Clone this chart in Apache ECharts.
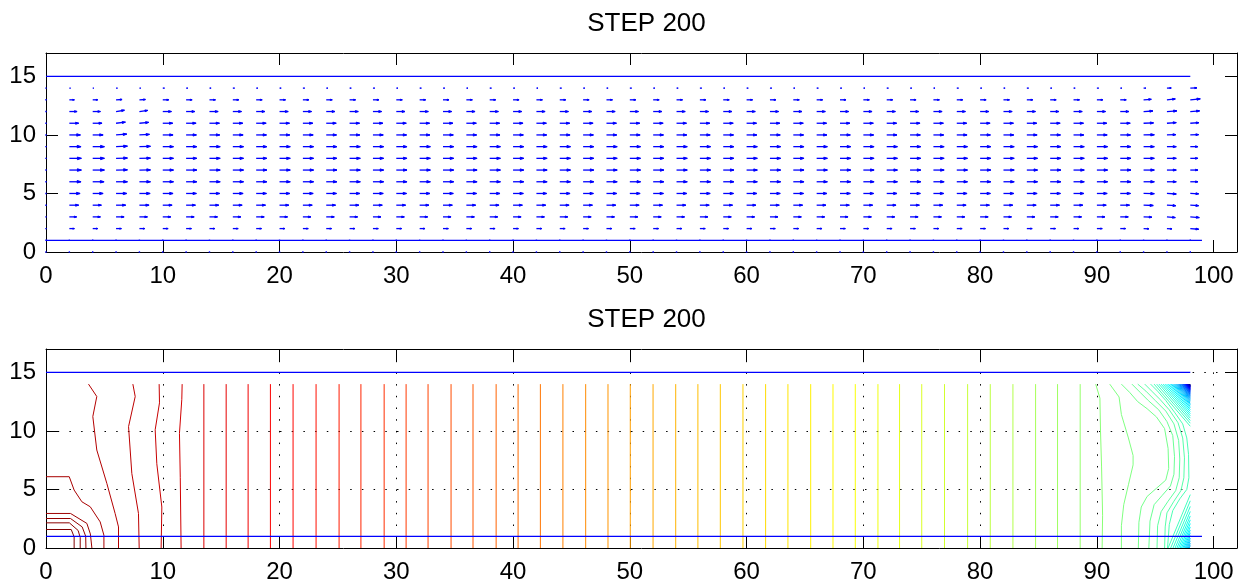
<!DOCTYPE html>
<html>
<head>
<meta charset="utf-8">
<script src="https://cdn.jsdelivr.net/npm/echarts@6/dist/echarts.min.js"></script>
<style>
  html, body { margin: 0; padding: 0; background: #fff; }
  #chart { width: 1253px; height: 588px; }
</style>
</head>
<body>
<div id="chart"></div>
<script>
// ---------------- DATA ----------------
const titleText = 'STEP 200';
const xTicks = [0, 10, 20, 30, 40, 50, 60, 70, 80, 90, 100];
const yTicks = [0, 5, 10, 15];

// wall lines
const wallBottom = [[0, 1], [99, 1]];
const wallTop = [[0, 15], [98, 15]];

// quiver grid
const quiverX = [0,2,4,6,8,10,12,14,16,18,20,22,24,26,28,30,32,34,36,38,40,42,44,46,48,
                 50,52,54,56,58,60,62,64,66,68,70,72,74,76,78,80,82,84,86,88,90,92,94,96,98];
const quiverY = [0,1,2,3,4,5,6,7,8,9,10,11,12,13,14];
// u,v by row (y = 0..14)
const uBase = [0, 0, 0.050, 0.075, 0.087, 0.096, 0.100, 0.100, 0.100, 0.100, 0.096, 0.093, 0.081, 0.056, 0.015];
const vZero = [0, 0, 0, 0, 0, 0, 0, 0, 0, 0, 0, 0, 0, 0, 0];
const uAt0  = [0, 0, 0, 0, 0, 0, 0, 0, 0, 0, 0, 0, 0, 0, 0];
const uAt2  = [0, 0, 0.047, 0.068, 0.087, 0.100, 0.109, 0.112, 0.112, 0.109, 0.103, 0.087, 0.072, 0.047, 0.010];
const uAt4  = [0, 0, 0.047, 0.072, 0.081, 0.097, 0.106, 0.109, 0.109, 0.109, 0.097, 0.087, 0.072, 0.047, 0.010];
const uAt6  = [0, 0, 0.050, 0.075, 0.090, 0.100, 0.106, 0.106, 0.106, 0.106, 0.100, 0.087, 0.078, 0.056, 0.012];
const vAt6  = [0, 0, 0, 0, 0, 0, 0, 0.002, 0.003, 0.004, 0.008, 0.010, 0.012, 0.003, 0];
const uAt8  = [0, 0, 0.050, 0.075, 0.090, 0.100, 0.103, 0.103, 0.103, 0.103, 0.094, 0.087, 0.078, 0.056, 0.012];
const vAt8  = [0, 0, 0, 0, 0, 0, 0, 0.001, 0.002, 0.003, 0.005, 0.008, 0.010, 0.003, 0];
const uAt94 = [0, 0, 0.050, 0.078, 0.090, 0.100, 0.100, 0.100, 0.100, 0.100, 0.100, 0.093, 0.087, 0.072, 0.020];
const vAt94 = [0, 0, -0.002, -0.003, -0.003, -0.002, 0, 0, 0, 0, 0.002, 0.003, 0.005, 0.005, 0];
const uAt96 = [0, 0, 0.047, 0.078, 0.084, 0.087, 0.087, 0.087, 0.087, 0.087, 0.084, 0.087, 0.093, 0.078, 0.040];
const vAt96 = [0, 0, -0.003, -0.006, -0.005, -0.005, 0, 0, 0, 0, 0.003, 0.006, 0.006, 0.008, 0.001];
const uAt98 = [0, 0, 0.078, 0.084, 0.078, 0.078, 0.072, 0.072, 0.072, 0.072, 0.078, 0.081, 0.087, 0.093, 0.062];
const vAt98 = [0, 0, -0.006, -0.006, -0.005, -0.003, 0, 0, 0, 0, 0.003, 0.005, 0.006, 0.009, 0.002];

// contour lines, ordered from highest level (bottom-left corner) to lowest
const contourLeft = [
  [[0,1.58],[2.16,1.58],[2.41,0.95],[2.41,0]],
  [[0,2.15],[2.0,2.15],[2.75,1.5],[2.93,0.9],[2.93,0]],
  [[0,2.52],[2.1,2.52],[3.1,1.8],[3.4,1.0],[3.42,0]],
  [[0,2.95],[2.1,2.95],[3.5,2.1],[3.8,1.2],[3.93,0]],
  [[0,6.09],[1.99,6.09],[2.41,4.95],[3.07,3.95],[3.79,3.52],[4.64,2.23],[4.96,1.09],[4.96,0]],
  [[3.64,14],[4.35,12.94],[4.01,11.23],[4.35,8.37],[5.21,5.52],[5.92,2.95],[6.21,1.8],[6.21,0]],
  [[7.44,14],[7.64,12.94],[7.07,10.37],[7.35,6.37],[7.92,2.95],[7.98,0]],
  [[9.69,14],[9.72,12.4],[9.35,10.1],[9.49,7.2],[9.92,3.5],[9.86,0]],
  [[11.66,14],[11.63,12.7],[11.43,9.8],[11.5,6.0],[11.57,0]]
];
const contourStraightX = [13.52,15.43,17.31,19.22,21.16,23.13,25.1,26.97,28.96,30.84,
  32.72,34.69,36.57,38.55,40.43,42.34,44.27,46.22,48.13,50.04,51.99,53.93,55.83,57.75,
  59.69,61.63,63.54,65.49,67.40,69.31,71.25,73.1,75.0,76.95,78.93,80.87,82.81,84.75,86.63,88.57];
const contourRight = [
  [[89.9,14],[90.26,12.8],[90.31,10],[90.4,7],[90.49,2.8],[90.45,0]],
  [[91.1,14],[91.9,12.9],[92.1,11.4],[92.7,9.4],[93.1,7.9],[93.1,7.1],[92.7,5.4],[92.3,3.7],[92.1,1.9],[92.1,0]],
  [[92.1,14],[92.8,13.3],[93.5,12.5],[94.3,11.9],[95.1,11.2],[95.8,10.2],[96.1,8.5],[96.15,6.8],[95.9,5.8],[95.1,5.1],[94.3,4.4],[93.8,3.5],[93.6,2.2],[93.55,0]],
  [[93.0,14],[93.7,13.3],[94.4,12.6],[95.3,11.8],[96.0,10.8],[96.5,9.6],[96.65,7.8],[96.6,6.3],[96.3,5.3],[95.6,4.5],[94.9,3.7],[94.55,2.3],[94.45,0]],
  [[93.5,14],[94.2,13.4],[95.0,12.6],[95.9,11.7],[96.6,10.6],[97.0,9.2],[97.1,7.6],[97.05,6.0],[96.75,4.9],[96.1,4.0],[95.5,3.1],[95.2,1.9],[95.15,0]],
  [[94.1,14],[94.7,13.4],[95.4,12.7],[96.2,11.8],[96.95,10.7],[97.35,9.4],[97.5,7.7],[97.45,6.0],[97.2,4.9],[96.6,4.0],[96.0,3.0],[95.85,1.8],[95.8,0]],
  [[94.6,14],[95.2,13.4],[95.9,12.6],[96.65,11.6],[97.35,10.6],[97.7,9.4],[97.85,8.0],[97.88,6.0],[97.7,5.0],[97.1,4.2],[96.5,3.2],[96.2,2.0],[96.05,0]]
];
// top-right fan: from (fanTopX, 14) to (98, fanTopY)
const fanTopX = [94.9,95.12,95.32,95.5,95.67,95.83,95.98,96.12,96.25,96.37,96.48,96.58,96.67,96.76,96.84,
  96.92,96.99,97.06,97.12,97.18,97.24,97.29,97.34,97.39,97.43,97.47,97.51,97.55,97.58,97.61,
  97.64,97.67,97.7,97.73,97.76,97.79,97.81,97.83,97.85,97.87,97.89,97.91,97.93,97.95,97.97];
const fanTopY = [10.4,10.66,10.89,11.1,11.3,11.48,11.66,11.82,11.97,12.11,12.24,12.35,12.46,12.56,12.65,
  12.75,12.83,12.91,12.98,13.05,13.12,13.18,13.23,13.29,13.34,13.39,13.43,13.48,13.51,13.55,
  13.58,13.62,13.65,13.69,13.72,13.76,13.78,13.8,13.83,13.85,13.87,13.9,13.92,13.94,13.97];
// bottom-right fan: from (fanBotX, 0) to (98, fanBotY)
const fanBotX = [96.1,96.32,96.52,96.7,96.86,97.0,97.13,97.25,97.36,97.46,97.56,97.65,97.74,97.83,97.91];
const fanBotY = [4.56,4.03,3.55,3.12,2.74,2.4,2.09,1.8,1.54,1.3,1.06,0.84,0.62,0.41,0.22];

// ---------------- STYLE / BUILD ----------------
const FONT = '"Liberation Sans", Arial, Helvetica, sans-serif';
const XMAX = 102, YMAX = 17;
const quiverScale = 9.2;
const LEVELS = 100;

function jet(t) {
  const c = v => Math.max(0, Math.min(1, v));
  const r = c(1.5 - Math.abs(4 * t - 3));
  const g = c(1.5 - Math.abs(4 * t - 2));
  const b = c(1.5 - Math.abs(4 * t - 1));
  return 'rgb(' + Math.round(r * 255) + ',' + Math.round(g * 255) + ',' + Math.round(b * 255) + ')';
}
const levelColor = k => jet(1 - k / LEVELS);

const columnU = {0: uAt0, 2: uAt2, 4: uAt4, 6: uAt6, 8: uAt8, 94: uAt94, 96: uAt96, 98: uAt98};
const columnV = {6: vAt6, 8: vAt8, 94: vAt94, 96: vAt96, 98: vAt98};
const quiverData = [];
quiverX.forEach(x => {
  const us = columnU[x] || uBase;
  const vs = columnV[x] || vZero;
  quiverY.forEach((y, i) => quiverData.push([x, y, us[i], vs[i]]));
});

const grids = [
  {left: 46, top: 53, width: 1191, height: 199},
  {left: 46, top: 349, width: 1191, height: 199}
];

function xAxes(gridIndex, withGrid) {
  return [
    {
      type: 'value', gridIndex, position: 'bottom', min: 0, max: XMAX, interval: 10,
      axisLine: {show: true, onZero: false, lineStyle: {color: '#000', width: 1}},
      axisTick: {show: true, inside: true, length: 12, lineStyle: {color: '#000', width: 1}},
      axisLabel: {show: true, color: '#000', fontSize: 24, fontFamily: FONT, margin: 12, showMaxLabel: false,
                  formatter: v => (xTicks.indexOf(v) >= 0 ? String(v) : '')},
      splitLine: {show: withGrid, lineStyle: {color: '#000', width: 1, type: [1.5, 10.2]}}
    },
    {
      type: 'value', gridIndex, position: 'top', min: 0, max: XMAX, interval: 10,
      axisLine: {show: true, onZero: false, lineStyle: {color: '#000', width: 1}},
      axisTick: {show: true, inside: true, length: 12, lineStyle: {color: '#000', width: 1}},
      axisLabel: {show: false}, splitLine: {show: false}
    }
  ];
}
function yAxes(gridIndex, withGrid) {
  return [
    {
      type: 'value', gridIndex, position: 'left', min: 0, max: YMAX, interval: 5,
      axisLine: {show: true, onZero: false, lineStyle: {color: '#000', width: 1}},
      axisTick: {show: true, inside: true, length: 12, lineStyle: {color: '#000', width: 1}},
      axisLabel: {show: true, color: '#000', fontSize: 24, fontFamily: FONT, margin: 10, showMaxLabel: false,
                  formatter: v => (yTicks.indexOf(v) >= 0 ? String(v) : '')},
      splitLine: {show: withGrid, lineStyle: {color: '#000', width: 1, type: [1.5, 10.2]}}
    },
    {
      type: 'value', gridIndex, position: 'right', min: 0, max: YMAX, interval: 5,
      axisLine: {show: true, onZero: false, lineStyle: {color: '#000', width: 1}},
      axisTick: {show: true, inside: true, length: 12, lineStyle: {color: '#000', width: 1}},
      axisLabel: {show: false}, splitLine: {show: false}
    }
  ];
}

function lineSeries(pts, color, xi, yi, z, width) {
  return {
    type: 'line', xAxisIndex: xi, yAxisIndex: yi, data: pts, symbol: 'none', showSymbol: false,
    lineStyle: {color, width: width || 1}, silent: true, animation: false, z, clip: true
  };
}

const series = [];
// walls in both plots
[[0, 0], [2, 2]].forEach(([xi, yi]) => {
  series.push(lineSeries(wallBottom, '#0000ff', xi, yi, 5, 1.2));
  series.push(lineSeries(wallTop, '#0000ff', xi, yi, 5, 1.2));
});

// quiver
series.push({
  type: 'custom', xAxisIndex: 0, yAxisIndex: 0, data: quiverData,
  dimensions: ['x', 'y', 'u', 'v'], encode: {x: 0, y: 1},
  silent: true, animation: false, z: 4,
  renderItem: function (params, api) {
    const x = api.value(0), y = api.value(1), u = api.value(2), v = api.value(3);
    const p0 = api.coord([x, y]);
    if (u === 0 && v === 0) {
      return {type: 'rect', shape: {x: p0[0] - 0.7, y: p0[1] - 0.7, width: 1.4, height: 1.4},
              style: {fill: '#0000ff'}};
    }
    const p1 = api.coord([x + u * quiverScale, y + v * quiverScale]);
    const dx = p1[0] - p0[0], dy = p1[1] - p0[1];
    const a = 0.33, b = 0.33;
    const h1 = [p1[0] - a * (dx + b * dy), p1[1] - a * (dy - b * dx)];
    const h2 = [p1[0] - a * (dx - b * dy), p1[1] - a * (dy + b * dx)];
    return {
      type: 'group',
      children: [
        {type: 'polyline', shape: {points: [p0, p1]}, style: {stroke: '#0000ff', lineWidth: 1.3, fill: null}},
        {type: 'polygon', shape: {points: [h1, p1, h2]}, style: {stroke: '#0000ff', lineWidth: 1, fill: '#0000ff'}}
      ]
    };
  }
});

// contours
let k = 0;
contourLeft.forEach(pts => { series.push(lineSeries(pts, levelColor(k), 2, 2, 3)); k++; });
contourStraightX.forEach(x => { series.push(lineSeries([[x, 0], [x, 14]], levelColor(k), 2, 2, 3)); k++; });
contourRight.forEach(pts => { series.push(lineSeries(pts, levelColor(k), 2, 2, 3)); k++; });
const kFan = k;
fanTopX.forEach((x, i) => {
  series.push(lineSeries([[x, 14], [98, fanTopY[i]]], levelColor(kFan + i), 2, 2, 3));
});
fanBotX.forEach((x, i) => {
  series.push(lineSeries([[x, 0], [98, fanBotY[i]]], levelColor(kFan + i), 2, 2, 3));
});

const option = {
  backgroundColor: '#fff',
  animation: false,
  title: [
    {text: titleText, left: 641.5, textAlign: 'center', top: 6,
     textStyle: {color: '#000', fontSize: 26, fontWeight: 'normal', fontFamily: FONT, lineHeight: 26}},
    {text: titleText, left: 641.5, textAlign: 'center', top: 302,
     textStyle: {color: '#000', fontSize: 26, fontWeight: 'normal', fontFamily: FONT, lineHeight: 26}}
  ],
  grid: grids.map(g => Object.assign({containLabel: false, outerBoundsMode: 'none', show: false}, g)),
  xAxis: [].concat(xAxes(0, false), xAxes(1, true)),
  yAxis: [].concat(yAxes(0, false), yAxes(1, true)),
  series
};

const chart = echarts.init(document.getElementById('chart'), null, {renderer: 'canvas'});
chart.setOption(option);
</script>
</body>
</html>
